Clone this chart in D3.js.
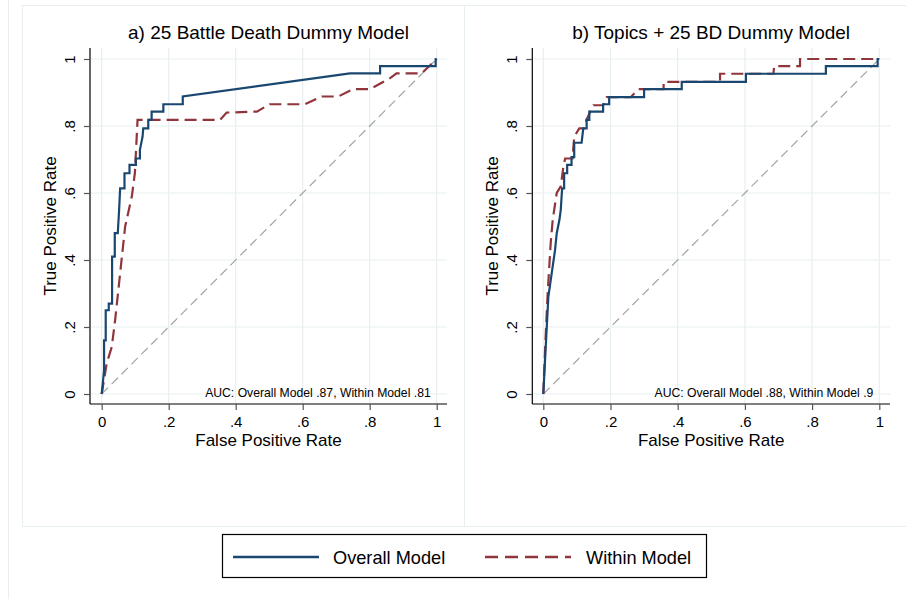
<!DOCTYPE html>
<html>
<head>
<meta charset="utf-8">
<script src="https://cdn.jsdelivr.net/npm/d3@7"></script>
<style>
  body { margin: 0; background: #fff; }
  svg { display: block; font-family: "Liberation Sans", Arial, sans-serif; }
</style>
</head>
<body>
<div id="chart"></div>
<script>
// ROC points: [false positive rate, true positive rate]
const leftOverall = [
  [0, 0], [0.007, 0.07], [0.007, 0.16], [0.012, 0.16], [0.012, 0.25], [0.021, 0.25],
  [0.021, 0.27], [0.031, 0.27], [0.031, 0.41], [0.039, 0.41], [0.039, 0.48], [0.048, 0.48],
  [0.052, 0.55], [0.055, 0.614], [0.068, 0.614], [0.068, 0.659], [0.083, 0.659],
  [0.083, 0.684], [0.102, 0.684], [0.102, 0.703], [0.114, 0.703], [0.114, 0.728],
  [0.122, 0.768], [0.124, 0.793], [0.139, 0.793], [0.139, 0.818], [0.149, 0.818],
  [0.149, 0.843], [0.184, 0.843], [0.184, 0.865], [0.242, 0.865], [0.242, 0.888],
  [0.741, 0.957], [0.831, 0.957], [0.831, 0.979], [0.997, 0.979], [0.997, 1], [1, 1]
];
const leftWithin = [
  [0, 0], [0.015, 0.092], [0.03, 0.14], [0.04, 0.22], [0.055, 0.36], [0.07, 0.5],
  [0.09, 0.59], [0.099, 0.659], [0.107, 0.818], [0.353, 0.818], [0.373, 0.84],
  [0.463, 0.843], [0.502, 0.865], [0.607, 0.865], [0.657, 0.888], [0.706, 0.888],
  [0.751, 0.91], [0.801, 0.91], [0.861, 0.943], [0.88, 0.957], [0.955, 0.957], [1, 1]
];
const rightOverall = [
  [0, 0], [0.008, 0.156], [0.015, 0.29], [0.025, 0.36], [0.035, 0.43], [0.04, 0.48],
  [0.048, 0.52], [0.052, 0.55], [0.056, 0.614], [0.062, 0.614], [0.062, 0.659],
  [0.071, 0.659], [0.071, 0.684], [0.084, 0.684], [0.084, 0.707], [0.092, 0.707],
  [0.092, 0.75], [0.114, 0.75], [0.119, 0.793], [0.129, 0.793], [0.129, 0.818],
  [0.137, 0.818], [0.137, 0.843], [0.178, 0.843], [0.178, 0.865], [0.196, 0.865],
  [0.196, 0.886], [0.3, 0.886], [0.3, 0.91], [0.412, 0.91], [0.412, 0.932],
  [0.603, 0.932], [0.603, 0.956], [0.841, 0.956], [0.841, 0.979], [0.995, 0.979],
  [0.995, 1], [1, 1]
];
const rightWithin = [
  [0, 0], [0.006, 0.15], [0.013, 0.3], [0.022, 0.45], [0.028, 0.52], [0.04, 0.6],
  [0.052, 0.62], [0.06, 0.68], [0.065, 0.703], [0.087, 0.703], [0.092, 0.768],
  [0.107, 0.793], [0.12, 0.793], [0.129, 0.82], [0.149, 0.862], [0.178, 0.862],
  [0.189, 0.886], [0.26, 0.886], [0.283, 0.91], [0.358, 0.91], [0.358, 0.932],
  [0.526, 0.932], [0.526, 0.956], [0.685, 0.956], [0.687, 0.979], [0.764, 0.979],
  [0.764, 1], [1, 1]
];
const referenceLine = [[0, 0], [1, 1]];

const tickValues = [0, 0.2, 0.4, 0.6, 0.8, 1];
const tickLabels = ["0", ".2", ".4", ".6", ".8", "1"];
const panelTitles = ["a) 25 Battle Death Dummy Model", "b) Topics + 25 BD Dummy Model"];
const aucLabels = [
  "AUC: Overall Model .87, Within Model .81",
  "AUC: Overall Model .88, Within Model .9"
];
const seriesNames = ["Overall Model", "Within Model"];

const width = 906;
const height = 599;
const navy = "#1a476f";
const maroon = "#90353b";
const gridColor = "#e8eff1";

const svg = d3.select("#chart")
  .append("svg")
  .attr("width", width)
  .attr("height", height)
  .attr("viewBox", `0 0 ${width} ${height}`);

// ! Graph region frames (light lines like the Stata combine)
svg.append("line")
  .attr("x1", 8.5).attr("x2", 8.5).attr("y1", 0).attr("y2", height)
  .attr("stroke", gridColor);
svg.append("rect")
  .attr("x", 22.5).attr("y", 5.5).attr("width", 442).attr("height", 521)
  .attr("fill", "none").attr("stroke", gridColor);
svg.append("rect")
  .attr("x", 464.5).attr("y", 5.5).attr("width", 450).attr("height", 521)
  .attr("fill", "none").attr("stroke", gridColor);

const panels = [
  { left: 90, right: 447, x0: 101.7, x1: 436.7, overall: leftOverall, within: leftWithin },
  { left: 532.3, right: 890, x0: 543.3, x1: 879.3, overall: rightOverall, within: rightWithin }
];
const plotTop = 48, plotBottom = 404, y0 = 394, y1 = 59;

panels.forEach((p, i) => {
  const x = d3.scaleLinear().domain([0, 1]).range([p.x0, p.x1]);
  const y = d3.scaleLinear().domain([0, 1]).range([y0, y1]);
  const g = svg.append("g");

  // Grid lines
  g.append("g")
    .selectAll("line")
    .data(tickValues)
    .join("line")
    .attr("x1", (d) => x(d)).attr("x2", (d) => x(d))
    .attr("y1", plotTop).attr("y2", plotBottom)
    .attr("stroke", gridColor).attr("stroke-width", 1.2);
  g.append("g")
    .selectAll("line")
    .data(tickValues)
    .join("line")
    .attr("x1", p.left).attr("x2", p.right)
    .attr("y1", (d) => y(d)).attr("y2", (d) => y(d))
    .attr("stroke", gridColor).attr("stroke-width", 1.2);

  // Axes
  const fmt = (d) => tickLabels[tickValues.indexOf(d)];
  const yAxis = g.append("g")
    .attr("transform", `translate(${p.left},0)`)
    .call(d3.axisLeft(y).tickValues(tickValues).tickFormat(fmt).tickSize(6).tickSizeOuter(0));
  yAxis.select(".domain").attr("d", `M0,${plotTop}V${plotBottom}`).attr("stroke", "#000").attr("stroke-width", 1.2);
  yAxis.selectAll(".tick line").attr("stroke", "#555").attr("stroke-width", 1.2);
  yAxis.selectAll(".tick text")
    .attr("transform", "rotate(-90)")
    .attr("x", 0).attr("y", -15).attr("dy", 0)
    .attr("text-anchor", "middle")
    .attr("font-size", 15).attr("fill", "#000");

  const xAxis = g.append("g")
    .attr("transform", `translate(0,${plotBottom})`)
    .call(d3.axisBottom(x).tickValues(tickValues).tickFormat(fmt).tickSize(6).tickSizeOuter(0));
  xAxis.select(".domain").attr("d", `M${p.left},0H${p.right}`).attr("stroke", "#000").attr("stroke-width", 1.2);
  xAxis.selectAll(".tick line").attr("stroke", "#555").attr("stroke-width", 1.2);
  xAxis.selectAll(".tick text")
    .attr("y", 23).attr("dy", 0)
    .attr("font-size", 15).attr("fill", "#000");

  // Reference diagonal
  const line = d3.line().x((d) => x(d[0])).y((d) => y(d[1]));
  g.append("path")
    .attr("d", line(referenceLine))
    .attr("fill", "none").attr("stroke", "#a3a3a3")
    .attr("stroke-width", 1.2).attr("stroke-dasharray", "9,5");

  // ROC curves
  g.append("path")
    .attr("d", line(p.within))
    .attr("fill", "none").attr("stroke", maroon)
    .attr("stroke-width", 2.2).attr("stroke-dasharray", "12,6");
  g.append("path")
    .attr("d", line(p.overall))
    .attr("fill", "none").attr("stroke", navy)
    .attr("stroke-width", 2.2);

  // Texts
  const cx = (p.left + p.right) / 2;
  g.append("text")
    .attr("x", cx).attr("y", 39)
    .attr("text-anchor", "middle").attr("font-size", 19)
    .text(panelTitles[i]);
  g.append("text")
    .attr("x", cx).attr("y", 446)
    .attr("text-anchor", "middle").attr("font-size", 17)
    .text("False Positive Rate");
  g.append("text")
    .attr("transform", `translate(${p.left - 34},${(plotTop + plotBottom) / 2}) rotate(-90)`)
    .attr("text-anchor", "middle").attr("font-size", 17)
    .text("True Positive Rate");
  g.append("text")
    .attr("x", x(1) - 6).attr("y", 397)
    .attr("text-anchor", "end").attr("font-size", 12.2)
    .text(aucLabels[i]);
});

// ! Legend
const legend = svg.append("g");
legend.append("rect")
  .attr("x", 222.5).attr("y", 534.5).attr("width", 484).attr("height", 43)
  .attr("fill", "#fff").attr("stroke", "#000").attr("stroke-width", 1.2);
const legendItems = [
  { name: seriesNames[0], color: navy, dash: null, lx: 233, tx: 333 },
  { name: seriesNames[1], color: maroon, dash: "13,7", lx: 485, tx: 586 }
];
legendItems.forEach((d) => {
  legend.append("line")
    .attr("x1", d.lx).attr("x2", d.lx + 86)
    .attr("y1", 557).attr("y2", 557)
    .attr("stroke", d.color).attr("stroke-width", 2.4)
    .attr("stroke-dasharray", d.dash);
  legend.append("text")
    .attr("x", d.tx).attr("y", 563.5)
    .attr("font-size", 18.2)
    .text(d.name);
});
</script>
</body>
</html>
